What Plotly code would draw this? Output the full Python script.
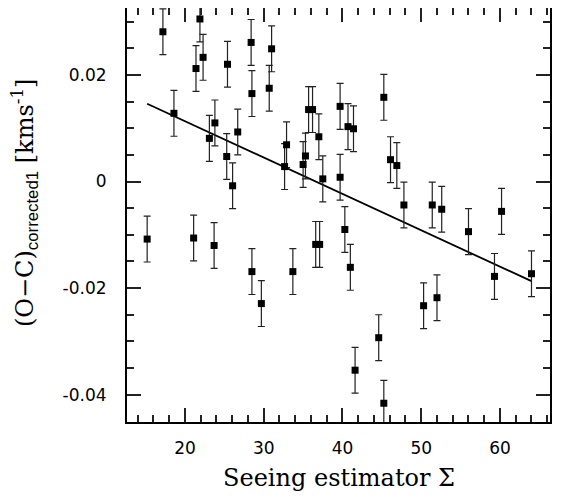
import plotly.graph_objects as go

# seeing estimator and corrected O-C residuals (km/s)
seeing = [15.2, 17.2, 18.6, 21.1, 21.4, 21.9, 22.3, 23.1, 23.7, 23.8,
          25.3, 25.4, 26.05, 26.7, 28.4, 28.5, 28.5, 29.7, 30.7, 31.0,
          32.65, 32.9, 33.7, 35.0, 35.3, 35.7, 36.2, 36.6, 37.0, 37.1,
          37.5, 39.7, 39.7, 40.3, 40.7, 41.0, 41.4, 41.6, 44.6, 45.25,
          45.25, 46.1, 46.9, 47.8, 50.3, 51.4, 52.0, 52.6, 56.0, 59.3,
          60.2, 64.0]
resid = [-0.0108, 0.0281, 0.0128, -0.0106, 0.0212, 0.0305, 0.0233, 0.0081, -0.0120, 0.0110,
         0.0047, 0.0220, -0.0008, 0.0093, 0.0261, 0.0165, -0.0169, -0.0229, 0.0175, 0.0249,
         0.0028, 0.0069, -0.0169, 0.0032, 0.0048, 0.0135, 0.0135, -0.0118, 0.0084, -0.0118,
         0.0005, 0.0141, 0.0008, -0.0090, 0.0103, -0.0161, 0.0099, -0.0354, -0.0293, 0.0158,
         -0.0416, 0.0041, 0.0030, -0.0044, -0.0233, -0.0044, -0.0218, -0.0052, -0.0094, -0.0178,
         -0.0056, -0.0173]
resid_err = [0.0043] * len(seeing)

# linear fit endpoints
fit_x = [15.2, 64.0]
fit_y = [0.0146, -0.0187]

y_major = [0.02, 0, -0.02, -0.04]
y_ticktext = ['0.02', '0', '-0.02', '-0.04']

fig = go.Figure()
fig.add_trace(go.Scatter(x=fit_x, y=fit_y, mode='lines',
                         line=dict(color='black', width=1.8), showlegend=False))
fig.add_trace(go.Scatter(
    x=seeing, y=resid, mode='markers',
    marker=dict(symbol='square', size=7, color='black'),
    error_y=dict(type='data', array=resid_err, width=3.5, thickness=1.2, color='#222'),
    showlegend=False))

tick_font = dict(family='DejaVu Sans', size=17, color='black')
title_font = dict(family='DejaVu Serif', size=24, color='black')

# page body has an 8px margin, so the figure is laid out 8px smaller
fig.update_xaxes(
    range=[12.64, 66.35], showgrid=False, zeroline=False, automargin=False,
    showline=True, linecolor='black', linewidth=2, mirror='allticks',
    tickmode='linear', tick0=0, dtick=10,
    ticks='inside', ticklen=14, tickwidth=1.5, tickcolor='#222',
    tickfont=tick_font, ticklabelstandoff=10,
    minor=dict(ticks='inside', ticklen=7, tickwidth=1.5, tickcolor='#222',
               tickmode='linear', tick0=0, dtick=2),
)
fig.update_yaxes(
    range=[-0.04512, 0.03256], showgrid=False, zeroline=False, automargin=False,
    showline=True, linecolor='black', linewidth=2, mirror='allticks',
    tickmode='array', tickvals=y_major, ticktext=y_ticktext,
    ticks='inside', ticklen=14, tickwidth=1.5, tickcolor='#222',
    tickfont=tick_font, ticklabelstandoff=15,
    minor=dict(ticks='inside', ticklen=7, tickwidth=1.5, tickcolor='#222',
               tickmode='linear', tick0=0, dtick=0.005),
)

# axis titles
fig.add_annotation(text='Seeing estimator Σ', font=title_font, showarrow=False,
                   xref='paper', yref='paper', x=0.5, y=-0.135,
                   xanchor='center', yanchor='middle')
fig.add_annotation(text='(O\u2212C)<sub><span style="font-family:Liberation Sans">corrected1</span></sub> '
                        '[kms<sup>-1</sup>]',
                   font=title_font, showarrow=False, textangle=-90,
                   xref='paper', yref='paper', x=-0.241, y=0.529,
                   xanchor='center', yanchor='middle')

fig.update_layout(
    width=557, height=489,
    margin=dict(l=119, r=15, t=0, b=75),
    plot_bgcolor='white', paper_bgcolor='white',
)

fig.write_html("out.html")
